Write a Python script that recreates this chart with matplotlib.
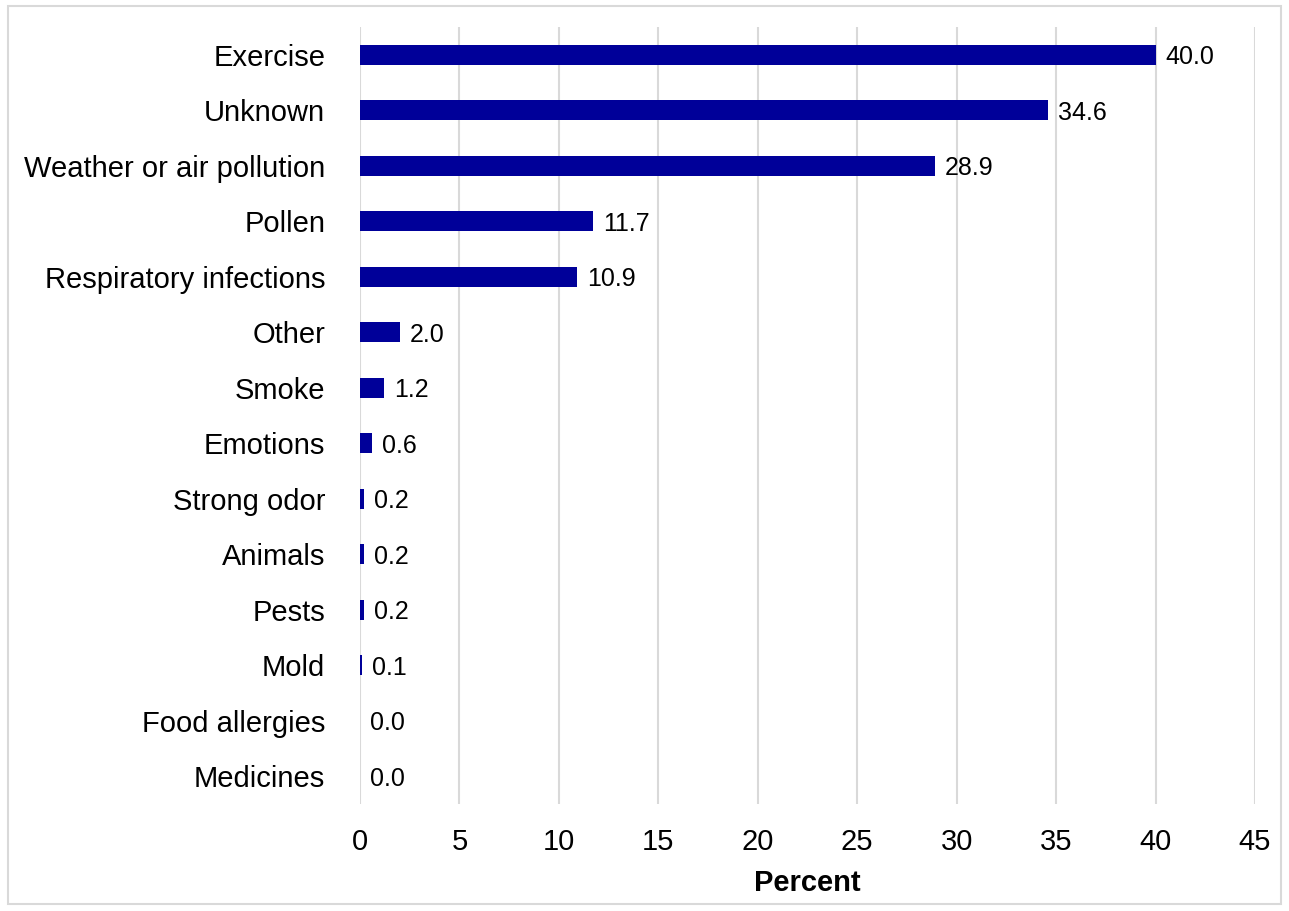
import matplotlib.pyplot as plt
from matplotlib.patches import Rectangle

plt.rcParams['font.family'] = ['Liberation Sans', 'DejaVu Sans']

categories = ["Exercise", "Unknown", "Weather or air pollution", "Pollen",
              "Respiratory infections", "Other", "Smoke", "Emotions",
              "Strong odor", "Animals", "Pests", "Mold", "Food allergies",
              "Medicines"]
percent = [40.0, 34.6, 28.9, 11.7, 10.9, 2.0, 1.2, 0.6, 0.2, 0.2, 0.2, 0.1, 0.0, 0.0]
x_ticks = [0, 5, 10, 15, 20, 25, 30, 35, 40, 45]

fig = plt.figure(figsize=(12.89, 9.11), dpi=100)
ax = fig.add_axes([0.2793, 0.1175, 0.6943, 0.853])

# light border round the whole chart
fig.patches.append(Rectangle((0.006, 0.008), 0.988, 0.985, transform=fig.transFigure,
                             fill=False, edgecolor="#d9d9d9", linewidth=1.5))

pos = list(range(len(categories)))
ax.barh(pos, percent, height=0.36, color="#000099", zorder=3)

for y, v in zip(pos, percent):
    ax.text(v + 0.5, y, f"{v:.1f}", va="center_baseline", ha="left", fontsize=18, color="black")

ax.set_yticks(pos)
ax.set_yticklabels(categories, fontsize=21)
ax.set_ylim(len(categories) - 0.5, -0.5)

ax.set_xlim(0, 45)
ax.set_xticks(x_ticks)
ax.set_xticklabels([str(t) for t in x_ticks], fontsize=21)
ax.set_xlabel("Percent", fontsize=21, fontweight="bold", labelpad=10)

ax.grid(axis="x", color="#d9d9d9", linewidth=1.5, zorder=0)
ax.tick_params(axis="both", length=0)
ax.tick_params(axis="x", pad=17)
ax.tick_params(axis="y", pad=25)
for s in ax.spines.values():
    s.set_visible(False)

fig.savefig("out.png", dpi=100)
